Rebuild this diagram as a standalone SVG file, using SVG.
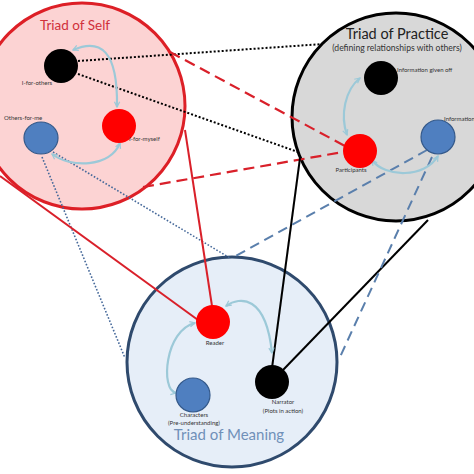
<svg xmlns="http://www.w3.org/2000/svg" width="474" height="474" viewBox="0 0 474 474">
<defs>
<marker id="ah" viewBox="0 0 8 8" refX="7" refY="4" markerWidth="7" markerHeight="7" markerUnits="userSpaceOnUse" orient="auto-start-reverse">
<path d="M1,1 L7,4 L1,7" fill="none" stroke="#9cc9d8" stroke-width="1.4"/>
</marker>
<style>
.lbl{font-family:Lato,"Liberation Sans",sans-serif;font-size:6px;fill:#333}
.ttl{font-family:Lato,"Liberation Sans",sans-serif}
.cyc{fill:none;stroke:#9cc9d8;stroke-width:2.2;marker-start:url(#ah);marker-end:url(#ah)}
.dotk{fill:none;stroke:#000;stroke-width:2;stroke-dasharray:2 2}
.dotb{fill:none;stroke:#46699a;stroke-width:1.6;stroke-dasharray:1.6 1.8}
.dashr{fill:none;stroke:#d9202a;stroke-width:2.2;stroke-dasharray:11 6}
.dashb{fill:none;stroke:#5a7fac;stroke-width:2;stroke-dasharray:10 6}
.solr{fill:none;stroke:#d9202a;stroke-width:2}
.solk{fill:none;stroke:#000;stroke-width:2}
.nb{fill:#4f7fc0;stroke:#34598a;stroke-width:1.2}
.nr{fill:#ff0000}
.nk{fill:#000}
</style>
</defs>
<rect width="474" height="474" fill="#fff"/>
<g id="triad-self-bg"><circle cx="82" cy="106" r="103" fill="#fcd3d3" stroke="#dd1f26" stroke-width="3"/></g>
<g id="triad-practice-bg"><circle cx="396" cy="117" r="104" fill="#d8d8d8" stroke="#000" stroke-width="3"/></g>
<g id="triad-meaning-bg"><circle cx="232" cy="362" r="105" fill="#e6eef8" stroke="#2f4a6d" stroke-width="3"/></g>
<g id="connectors">
<path class="dotk" d="M78,61 L323,44"/>
<path class="dotk" d="M78,74 L298,152"/>
<path class="dashr" d="M170,52 L345,146"/>
<path class="dashr" d="M143,187 L343,152"/>
<path class="dotb" d="M53,152 L230,258"/>
<path class="dotb" d="M42,157 L125,358"/>
<path class="solr" d="M0,176 L198,320"/>
<path class="solr" d="M185,130 L212,306"/>
<path class="solk" d="M300,158 L272,368"/>
<path class="solk" d="M428,220 L283,370"/>
<path class="dashb" d="M427,150 L232,258"/>
<path class="dashb" d="M432,157 L340,357"/>
</g>
<g id="cycles">
<path class="cyc" d="M73,50 C100,38 118,50 117,107"/>
<path class="cyc" d="M52,154 C70,168 110,168 120,143"/>
<path class="cyc" d="M360,78 C345,90 340,115 347,135"/>
<path class="cyc" d="M372,160 C385,178 425,178 438,156"/>
<path class="cyc" d="M226,306 C240,296 266,295 272,353"/>
<path class="cyc" d="M195,323 C165,330 160,390 176,393"/>
</g>
<g id="title-self"><text class="ttl" x="75" y="30" font-size="13.5" fill="#d0303a" text-anchor="middle">Triad of Self</text></g>
<g id="title-practice">
<text class="ttl" x="397" y="39" font-size="14.5" fill="#222" text-anchor="middle">Triad of Practice</text>
<text class="ttl" x="397" y="51" font-size="8.6" fill="#333" text-anchor="middle">(defining relationships with others)</text>
</g>
<g id="title-meaning"><text class="ttl" x="229" y="440" font-size="15" fill="#7090b8" text-anchor="middle">Triad of Meaning</text></g>
<g id="i-for-others"><circle class="nk" cx="61" cy="66" r="17"/><text class="lbl" x="37" y="85" text-anchor="middle">I-for-others</text></g>
<g id="i-for-myself"><circle class="nr" cx="119" cy="126" r="17"/><text class="lbl" x="129" y="141">I-for-myself</text></g>
<g id="others-for-me"><ellipse class="nb" cx="41" cy="138" rx="17" ry="16"/><text class="lbl" x="4" y="120">Others-for-me</text></g>
<g id="information-given-off"><circle class="nk" cx="381" cy="78" r="17"/><text class="lbl" x="397" y="72">Information given off</text></g>
<g id="participants"><circle class="nr" cx="360" cy="151" r="17"/><text class="lbl" x="351" y="172" text-anchor="middle">Participants</text></g>
<g id="information"><circle class="nb" cx="438" cy="137" r="17"/><text class="lbl" x="444" y="121">Information</text></g>
<g id="reader"><circle class="nr" cx="213" cy="322" r="17"/><text class="lbl" x="215" y="345" text-anchor="middle">Reader</text></g>
<g id="characters"><circle class="nb" cx="193" cy="395" r="17"/><text class="lbl" x="194" y="417" text-anchor="middle">Characters</text><text class="lbl" x="194" y="425" text-anchor="middle">(Pre-understanding)</text></g>
<g id="narrator"><circle class="nk" cx="272" cy="382" r="17"/><text class="lbl" x="283" y="404" text-anchor="middle">Narrator</text><text class="lbl" x="283" y="413" text-anchor="middle">(Plots in action)</text></g>
</svg>
